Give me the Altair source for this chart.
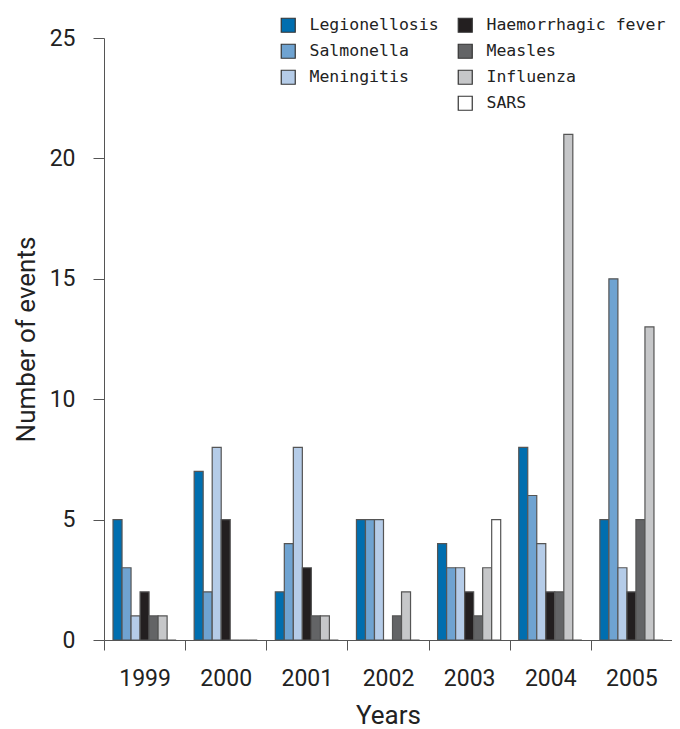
import altair as alt
import pandas as pd

years = ["1999", "2000", "2001", "2002", "2003", "2004", "2005"]
diseases = ["Legionellosis", "Salmonella", "Meningitis",
            "Haemorrhagic fever", "Measles", "Influenza", "SARS"]
legionellosis = [5, 7, 2, 5, 4, 8, 5]
salmonella = [3, 2, 4, 5, 3, 6, 15]
meningitis = [1, 8, 8, 5, 3, 4, 3]
haemorrhagic = [2, 5, 3, 0, 2, 2, 2]
measles = [1, 0, 1, 1, 1, 2, 5]
influenza = [1, 0, 1, 2, 3, 21, 13]
sars = [0, 0, 0, 0, 5, 0, 0]

groupA = ["Legionellosis", "Salmonella", "Meningitis"]
groupB = ["Haemorrhagic fever", "Measles", "Influenza", "SARS"]
colorsA = ["#006eaf", "#6fa3d1", "#b5cce8"]
colorsB = ["#231f20", "#636466", "#c6c7c9", "#ffffff"]

series = [legionellosis, salmonella, meningitis, haemorrhagic, measles, influenza, sars]
rows = []
for d, vals in zip(diseases, series):
    for y, v in zip(years, vals):
        rows.append({"year": y, "disease": d, "events": v})
df = pd.DataFrame(rows)
dfA = df[df["disease"].isin(groupA)]
dfB = df[df["disease"].isin(groupB)]

FONT = "Roboto"

x_enc = alt.X("year:N", sort=years,
              scale=alt.Scale(domain=years, paddingInner=0, paddingOuter=0),
              axis=alt.Axis(title="Years", labelAngle=0, tickBand="extent",
                            tickSize=10, labelPadding=17, labelFontSize=23,
                            labelFont=FONT, labelColor="#222",
                            titleFont=FONT, titleFontSize=26, titleFontWeight="normal",
                            titleColor="#222", titlePadding=12,
                            domainColor="#555", tickColor="#555"))
xo_enc = alt.XOffset("disease:N", sort=diseases,
                     scale=alt.Scale(domain=diseases, paddingInner=0, paddingOuter=1))
y_enc = alt.Y("events:Q",
              scale=alt.Scale(domain=[0, 25]),
              axis=alt.Axis(title="Number of events", values=[0, 5, 10, 15, 20, 25],
                            grid=False, tickSize=11, labelPadding=18,
                            labelFontSize=23, labelFont=FONT, labelColor="#222",
                            titleFont=FONT, titleFontSize=26, titleFontWeight="normal",
                            titleColor="#222", titlePadding=10,
                            domainColor="#555", tickColor="#555"))

legend_common = dict(title=None, orient="none", symbolType="square", symbolSize=196,
                     symbolStrokeColor="#333", symbolStrokeWidth=1.2,
                     labelFont="DejaVu Sans Mono", labelFontSize=16.5, labelColor="#222",
                     labelLimit=0, rowPadding=6, labelOffset=13, padding=0,
                     direction="vertical")

barA = alt.Chart(dfA).mark_bar(stroke="#555", strokeWidth=1.2).encode(
    x=x_enc, xOffset=xo_enc, y=y_enc,
    color=alt.Color("disease:N", sort=groupA,
                    scale=alt.Scale(domain=groupA, range=colorsA),
                    legend=alt.Legend(legendX=176, legendY=-21, **legend_common)),
)
barB = alt.Chart(dfB).mark_bar(stroke="#555", strokeWidth=1.2).encode(
    x=x_enc, xOffset=xo_enc, y=y_enc,
    fill=alt.Fill("disease:N", sort=groupB,
                  scale=alt.Scale(domain=groupB, range=colorsB),
                  legend=alt.Legend(legendX=353, legendY=-21, **legend_common)),
)

chart = alt.layer(barA, barB).resolve_scale(color="independent", fill="independent").properties(
    width=568, height=602,
    autosize=alt.AutoSizeParams(type="none"),
    padding={"left": 96, "top": 30, "right": 0, "bottom": 90},
).configure_view(stroke=None)

chart.save("out.html", embed_options={"renderer": "svg", "actions": False})
